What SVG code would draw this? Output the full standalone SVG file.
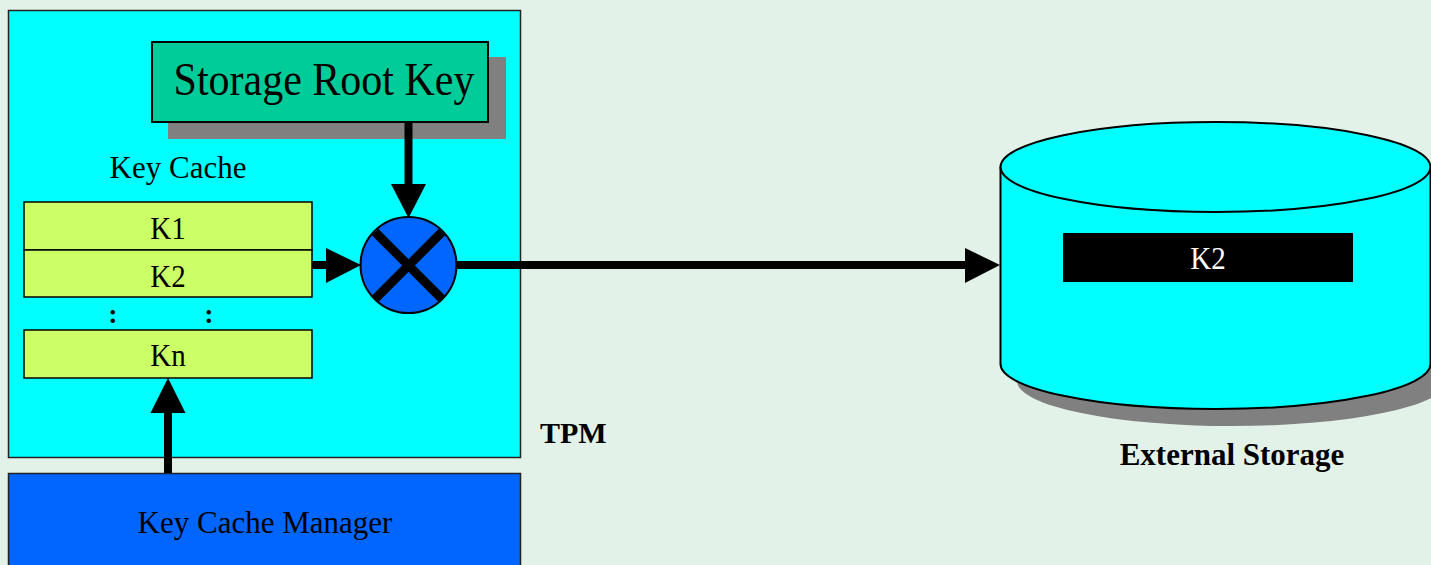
<svg xmlns="http://www.w3.org/2000/svg" width="1431" height="565" viewBox="0 0 1431 565">
<style>
.serif{font-family:"Liberation Serif","Times New Roman",serif;fill:#000}
.bold{font-weight:bold}
.kbox{fill:#ccff66;stroke:#000;stroke-width:1.5}
.conn{stroke:#000;stroke-width:8;fill:none}
.head{fill:#000}
.shadow{fill:#808080}
</style>
<rect x="0" y="0" width="1431" height="565" fill="#e3f2e9"/>

<g id="tpm">
<rect x="8.5" y="10.5" width="512" height="447" fill="#00ffff" stroke="#222" stroke-width="1.5"/>
<text class="serif bold" x="540" y="443" font-size="30">TPM</text>
</g>

<g id="storage-root-key">
<rect class="shadow" x="168" y="57" width="338" height="82"/>
<rect x="152" y="42" width="336" height="80" fill="#00cc99" stroke="#000" stroke-width="2"/>
<text class="serif" transform="translate(324,95) scale(1,1.1)" font-size="42" text-anchor="middle">Storage Root Key</text>
</g>

<g id="key-cache">
<text class="serif" x="178" y="178" font-size="31" text-anchor="middle">Key Cache</text>
<rect class="kbox" x="24" y="202" width="288" height="48"/>
<text class="serif" transform="translate(168,239) scale(1,1.1)" font-size="29" text-anchor="middle">K1</text>
<rect class="kbox" x="24" y="250" width="288" height="47"/>
<text class="serif" transform="translate(168,287) scale(1,1.1)" font-size="29" text-anchor="middle">K2</text>
<text class="serif bold" x="113" y="323" font-size="28" text-anchor="middle">:</text>
<text class="serif bold" x="209" y="323" font-size="28" text-anchor="middle">:</text>
<rect class="kbox" x="24" y="330" width="288" height="48"/>
<text class="serif" transform="translate(168,366) scale(1,1.1)" font-size="29" text-anchor="middle">Kn</text>
</g>

<g id="encrypt-op">
<circle cx="408.5" cy="265" r="48" fill="#0066ff" stroke="#000" stroke-width="2"/>
<line x1="375" y1="232" x2="442" y2="299" stroke="#000" stroke-width="9"/>
<line x1="442" y1="232" x2="375" y2="299" stroke="#000" stroke-width="9"/>
</g>

<g id="key-cache-manager">
<rect x="8.5" y="473.5" width="512" height="100" fill="#0066ff" stroke="#222" stroke-width="1.5"/>
<text class="serif" x="265" y="533" font-size="31" text-anchor="middle">Key Cache Manager</text>
</g>

<g id="external-storage">
<path class="shadow" d="M1017 183 L1017 381 A215 45 0 0 0 1447 381 L1447 183 Z"/>
<path d="M1000.5 167 L1000.5 364 A215 45 0 0 0 1430.5 364 L1430.5 167" fill="#00ffff" stroke="#000" stroke-width="2"/>
<ellipse cx="1215.5" cy="167" rx="215" ry="45" fill="#00ffff" stroke="#000" stroke-width="2"/>
<rect x="1063" y="233" width="290" height="49" fill="#000"/>
<text class="serif" transform="translate(1208,269) scale(1,1.1)" font-size="29" text-anchor="middle" style="fill:#fff">K2</text>
<text class="serif bold" x="1232" y="465" font-size="31" text-anchor="middle">External Storage</text>
</g>

<g id="connectors">
<line class="conn" x1="408.5" y1="122" x2="408.5" y2="186"/>
<polygon class="head" points="391,184 426,184 408.5,218"/>
<line class="conn" x1="312" y1="265" x2="328" y2="265"/>
<polygon class="head" points="326,248 326,283 361,265"/>
<line class="conn" x1="456" y1="265" x2="967" y2="265"/>
<polygon class="head" points="965,248 965,283 1000,265"/>
<line class="conn" x1="168" y1="411" x2="168" y2="473"/>
<polygon class="head" points="150.5,413 185.5,413 168,378"/>
</g>
</svg>
